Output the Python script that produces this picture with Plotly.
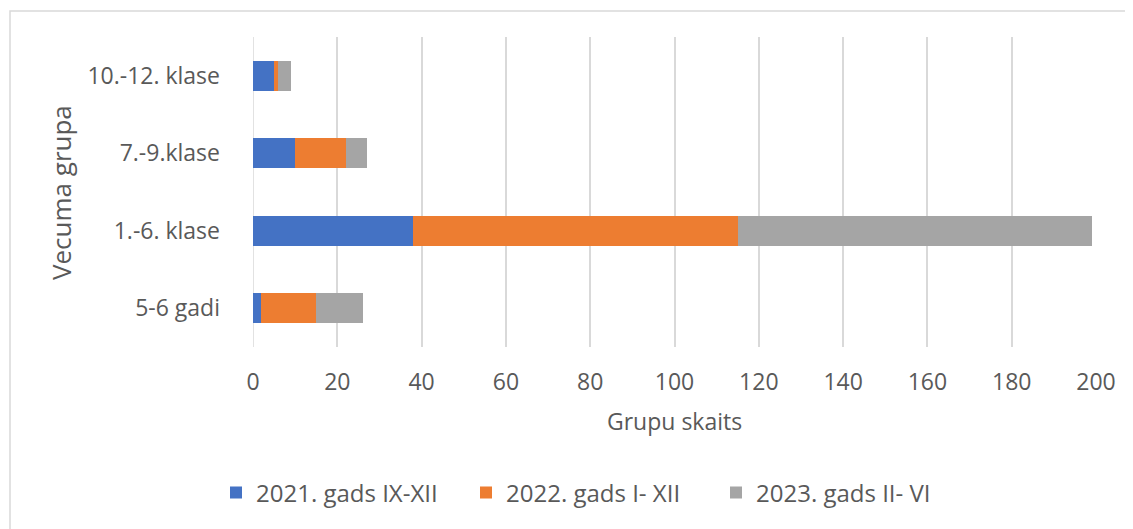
import plotly.graph_objects as go

categories = ["5-6 gadi", "1.-6. klase", "7.-9.klase", "10.-12. klase"]
series_names = ["2021. gads IX-XII", "2022. gads I- XII", "2023. gads II- VI"]
values_2021 = [2, 38, 10, 5]
values_2022 = [13, 77, 12, 1]
values_2023 = [11, 84, 5, 3]
colors = ["#4472C4", "#ED7D31", "#A5A5A5"]
x_ticks = [0, 20, 40, 60, 80, 100, 120, 140, 160, 180, 200]

FONT = "Open Sans"
TXT = "#595959"
OFF = 8  # browser body margin

fig = go.Figure()
for name, vals, col in zip(series_names, [values_2021, values_2022, values_2023], colors):
    fig.add_trace(go.Bar(
        y=categories, x=vals, name=name, orientation="h",
        marker=dict(color=col, line=dict(width=0)),
    ))

W, H = 1133 - OFF, 529 - OFF
# plot area in screen coordinates of the reference
SX0, SX1, SY0, SY1 = 253, 1096, 37, 347
L, T = SX0 - OFF, SY0 - OFF
R, B = W - (SX1 - OFF), H - (SY1 - OFF)
pw, ph = W - L - R, H - T - B

def px_x(p):
    return (p - OFF - L) / pw

def px_y(p):
    return (H - B - (p - OFF)) / ph

fig.update_layout(
    width=W, height=H,
    barmode="stack", bargap=0.61,
    margin=dict(l=L, r=R, t=T, b=B, autoexpand=False),
    paper_bgcolor="white", plot_bgcolor="white",
    font=dict(family=FONT, size=23, color=TXT),
    showlegend=True,
    legend=dict(orientation="h", x=px_x(216), xanchor="left",
                y=px_y(493), yanchor="middle",
                font=dict(size=24, color=TXT), traceorder="normal",
                itemwidth=30, entrywidth=205, entrywidthmode="pixels"),
    xaxis=dict(range=[0, 200], tickvals=x_ticks, showgrid=True,
               gridcolor="#d9d9d9", gridwidth=1.5, zeroline=False,
               showline=False, ticks="", ticklabelstandoff=19,
               tickfont=dict(size=23, color=TXT)),
    yaxis=dict(showgrid=False, zeroline=False, showline=False, ticks="",
               ticklabelstandoff=32, tickfont=dict(size=23, color=TXT)),
    annotations=[
        dict(text="Grupu skaits", xref="paper", yref="paper", x=0.5, y=px_y(421),
             xanchor="center", yanchor="middle", showarrow=False,
             font=dict(size=23, color=TXT)),
        dict(text="Vecuma grupa", xref="paper", yref="paper", x=px_x(61), y=px_y(193),
             xanchor="center", yanchor="middle", showarrow=False, textangle=-90,
             font=dict(size=26, color=TXT)),
    ],
    shapes=[
        dict(type="rect", xref="paper", yref="paper",
             x0=px_x(10), x1=px_x(1133 + 20), y0=px_y(529 + 20), y1=px_y(11),
             line=dict(color="#d9d9d9", width=1.5), fillcolor="rgba(0,0,0,0)", layer="below"),
        dict(type="line", xref="x", yref="paper", x0=0, x1=0, y0=0, y1=1,
             line=dict(color="#d9d9d9", width=1.5), layer="below"),
    ],
)

fig.write_html("out.html")
